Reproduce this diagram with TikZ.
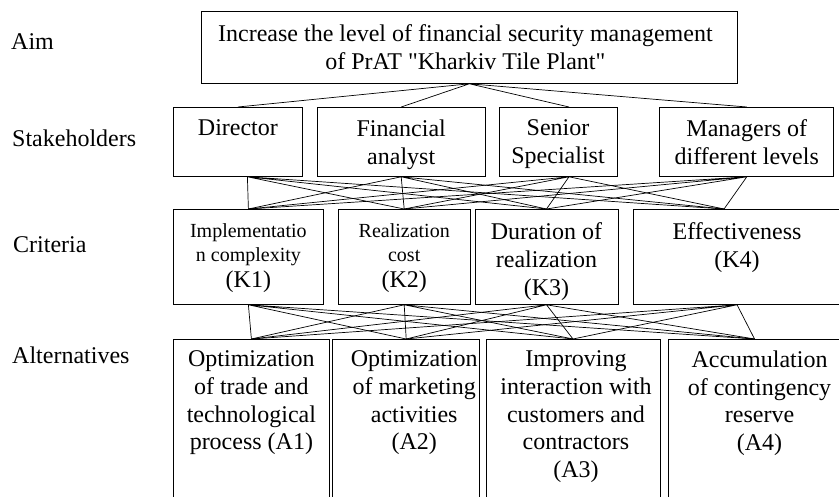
\documentclass[tikz,border=0pt]{standalone}
\usepackage{fontspec}
\setmainfont{Liberation Serif}[Ligatures=TeXOff]
\usepackage{tikz}
\usetikzlibrary{positioning}

\tikzstyle{box} = [rectangle, draw=black, line width=0.8pt, inner sep=0pt]
\tikzstyle{words} = [inner sep=0pt, align=center, font=\fontsize{24}{27.7}\selectfont]
\tikzstyle{tag} = [inner sep=0pt, anchor=base west, font=\fontsize{24}{27.7}\selectfont]
\tikzstyle{line} = [black, line width=0.7pt]
\newcommand{\smalltext}[1]{{\fontsize{20}{24}\selectfont #1}}

\begin{document}
\begin{tikzpicture}[x=1pt, y=-1pt, node distance=14pt]
  \useasboundingbox (0,0) rectangle (839,497);
  \clip (0,0) rectangle (839,497);

  % level names
  \node (aimtag) [tag] at (11,50) {Aim};
  \node (stagtag) [tag] at (12,147) {Stakeholders};
  \node (crittag) [tag] at (13,252.7) {Criteria};
  \node (alttag) [tag] at (12,363.3) {Alternatives};

  % aim
  \node (aim) [box, minimum width=536pt, minimum height=72pt, anchor=north west] at (201,11) {};
  \node (aimtext) [words, xshift=-4pt] at (aim.center) {Increase the level of financial security management\\of PrAT "Kharkiv Tile Plant"};

  % stakeholders
  \node (director) [box, minimum width=129pt, minimum height=69pt, anchor=north west] at (173,107) {};
  \node (analyst) [box, minimum width=168pt, minimum height=69pt, right=14pt of director] {};
  \node (specialist) [box, minimum width=118pt, minimum height=69pt, right=13pt of analyst] {};
  \node (managers) [box, minimum width=174pt, minimum height=69pt, right=42pt of specialist] {};
  \node (directortext) [words, below=12.6pt of director.north] {Director};
  \node (analysttext) [words, below=12.6pt of analyst.north] {Financial\\analyst};
  \node (specialisttext) [words, below=12.6pt of specialist.north] {Senior\\Specialist};
  \node (managerstext) [words, below=12.6pt of managers.north] {Managers of\\different levels};

  % criteria
  \node (k1) [box, minimum width=150pt, minimum height=95pt, anchor=north west] at (173,209) {};
  \node (k2) [box, minimum width=132pt, minimum height=95pt, right=14pt of k1] {};
  \node (k3) [box, minimum width=143pt, minimum height=95pt, right=4pt of k2] {};
  \node (k4) [box, minimum width=206.5pt, minimum height=95pt, right=15pt of k3] {};
  \node (k1text) [words, below=14pt of k1.north] {\smalltext{Implementatio}\\[-3.7pt]\smalltext{n complexity}\\[-1.4pt](K1)};
  \node (k2text) [words, below=14pt of k2.north] {\smalltext{Realization}\\[-3.7pt]\smalltext{cost}\\[-1.4pt](K2)};
  \node (k3text) [words, below=13.6pt of k3.north] {Duration of\\realization\\(K3)};
  \node (k4text) [words, below=13.6pt of k4.north] {Effectiveness\\(K4)};

  % alternatives
  \node (a1) [box, minimum width=156pt, minimum height=181pt, anchor=north west] at (173,339) {};
  \node (a2) [box, minimum width=147pt, minimum height=181pt, right=2.5pt of a1] {};
  \node (a3) [box, minimum width=174pt, minimum height=181pt, right=5.5pt of a2] {};
  \node (a4) [box, minimum width=171.5pt, minimum height=181pt, right=8pt of a3] {};
  \node (a1text) [words, below=11.6pt of a1.north] {Optimization\\of trade and\\technological\\process (A1)};
  \node (a2text) [words, below=11.6pt of a2.north, xshift=8pt] {Optimization\\of marketing\\activities\\(A2)};
  \node (a3text) [words, below=11.6pt of a3.north, xshift=3pt] {Improving\\interaction with\\customers and\\contractors\\(A3)};
  \node (a4text) [words, below=11.6pt of a4.north, xshift=5pt] {Accumulation\\of contingency\\reserve\\(A4)};

  % links
  \draw [line] (aim.south) -- (director.north) (aim.south) -- (analyst.north)
    (aim.south) -- ([xshift=11pt]specialist.north) (aim.south) -- (managers.north);

  \draw [line] ([xshift=9.5pt]director.south) -- (k1.north) ([xshift=9.5pt]director.south) -- (k2.north)
    ([xshift=9.5pt]director.south) -- (k3.north) ([xshift=9.5pt]director.south) -- ([xshift=-13pt]k4.north);
  \draw [line] (analyst.south) -- (k1.north) (analyst.south) -- (k2.north)
    (analyst.south) -- (k3.north) (analyst.south) -- ([xshift=-13pt]k4.north);
  \draw [line] ([xshift=11pt]specialist.south) -- (k1.north) ([xshift=11pt]specialist.south) -- (k2.north)
    ([xshift=11pt]specialist.south) -- (k3.north) ([xshift=11pt]specialist.south) -- ([xshift=-13pt]k4.north);
  \draw [line] (managers.south) -- (k1.north) (managers.south) -- (k2.north)
    (managers.south) -- (k3.north) (managers.south) -- ([xshift=-13pt]k4.north);

  \draw [line] (k1.south) -- (a1.north) (k1.south) -- (a2.north) (k1.south) -- (a3.north) (k1.south) -- (a4.north);
  \draw [line] (k2.south) -- (a1.north) (k2.south) -- (a2.north) (k2.south) -- (a3.north) (k2.south) -- (a4.north);
  \draw [line] (k3.south) -- (a1.north) (k3.south) -- (a2.north) (k3.south) -- (a3.north) (k3.south) -- (a4.north);
  \draw [line] (k4.south) -- (a1.north) (k4.south) -- (a2.north) (k4.south) -- (a3.north) (k4.south) -- (a4.north);

\end{tikzpicture}
\end{document}
